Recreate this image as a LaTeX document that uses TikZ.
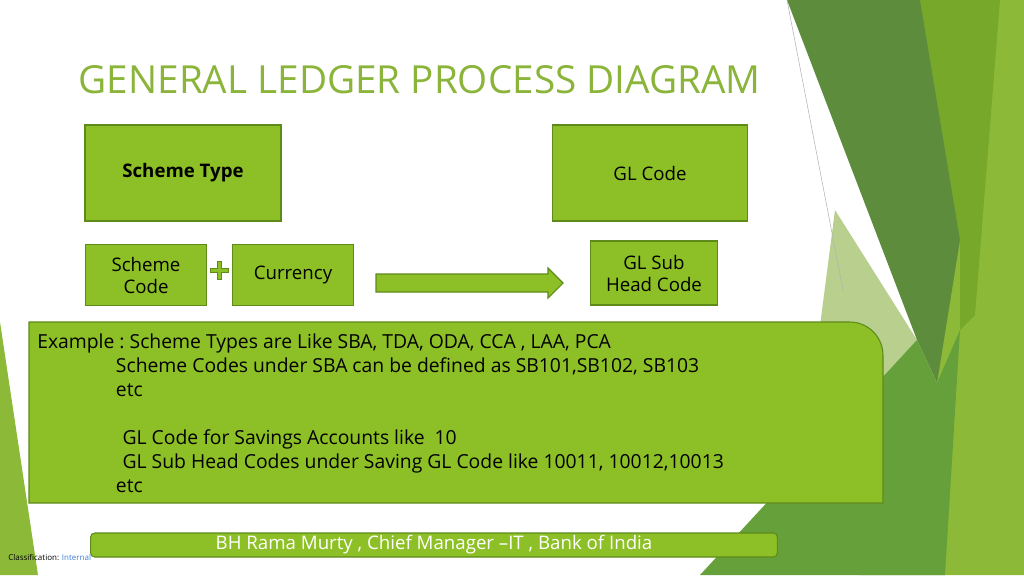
\documentclass[tikz,border=0pt]{standalone}
\usepackage{fontspec}
\setmainfont{Open Sans}
\usetikzlibrary{positioning}
\definecolor{boxgreen}{HTML}{8DC026}
\definecolor{boxedge}{HTML}{5E8A1A}
\definecolor{titlegreen}{HTML}{8AB43A}
\definecolor{darkband}{HTML}{5C8C3C}
\definecolor{limeband}{HTML}{78A82A}
\definecolor{lightband}{HTML}{8CBA38}
\definecolor{midband}{HTML}{66A03A}
\definecolor{paleband}{HTML}{B8CF8E}
\tikzset{box/.style={draw=boxedge, fill=boxgreen, line width=0.8pt, align=center, inner sep=0pt, font=\fontsize{14}{16.5}\selectfont}}
\begin{document}
\begin{tikzpicture}[x=0.75pt,y=-0.75pt]
\useasboundingbox (0,0) rectangle (1024,575);
%% background shapes
\fill[paleband] (835,210) -- (917,340) -- (870,420) -- (800,480) -- cycle;
\fill[lightband] (920,0) -- (1024,0) -- (1024,575) -- (860,575) -- (937,383) -- cycle;
\fill[limeband] (920,0) -- (1000,0) -- (975,315) -- (960,330) -- (960,240) -- cycle;
\fill[darkband] (787,0) -- (920,0) -- (960,240) -- (937,383) -- (917,340) -- cycle;
\fill[midband] (700,575) -- (917,340) -- (937,383) -- (960,330) -- (945,575) -- cycle;
\fill[lightband] (0,322) -- (38,575) -- (0,575) -- cycle;
\draw[gray!60, line width=0.4pt] (787,0) -- (843,290);
%
\node[anchor=west, text=titlegreen, font=\fontsize{29}{33}\selectfont] (title) at (74,80) {GENERAL LEDGER PROCESS DIAGRAM};
\node[box, minimum width=147pt, minimum height=72pt, font=\fontsize{14}{16.5}\selectfont\bfseries] (stype) at (183,173) {Scheme Type};
\node[box, minimum width=146pt, minimum height=72pt] (glcode) at (650,173) {GL Code};
\node[box, minimum width=91pt, minimum height=46pt] (scode) at (146,275) {Scheme\\Code};
\node[box, minimum width=91pt, minimum height=46pt] (curr) at (293,275) {Currency};
\node[box, minimum width=95pt, minimum height=48pt] (glsub) at (654,273) {GL Sub\\Head Code};
\draw[boxedge, fill=boxgreen, line width=0.5pt] (217,261) -- (221,261) -- (221,268) -- (228,268) -- (228,272) -- (221,272) -- (221,279) -- (217,279) -- (217,272) -- (210,272) -- (210,268) -- (217,268) -- cycle;
\draw[boxedge, fill=boxgreen, line width=0.8pt] (376,274) -- (548,274) -- (548,268) -- (563,283) -- (548,298) -- (548,292) -- (376,292) -- cycle;
%
\draw[draw=boxedge, fill=boxgreen, line width=0.8pt] (29,322) [rounded corners=25] -- (883,322) [sharp corners] -- (883,503) -- (29,503) -- cycle;
\node[anchor=north west, align=left, inner sep=0pt, font=\fontsize{14.5}{23}\selectfont] (example) at (37,334) {%
Example :\ Scheme Types are Like SBA, TDA, ODA, CCA , LAA, PCA\\[-5pt]
\hspace*{59pt}Scheme Codes under SBA can be defined as SB101,SB102, SB103\\[-5pt]
\hspace*{59pt}etc\\[-5pt]
\\[-5pt]
\hspace*{64pt}GL Code for Savings Accounts like~ 10\\[-5pt]
\hspace*{64pt}GL Sub Head Codes under Saving GL Code like 10011, 10012,10013\\[-5pt]
\hspace*{59pt}etc};
\node[box, rounded corners=3pt, minimum width=515pt, minimum height=18pt, text=white] (footer) at (434,545) {BH Rama Murty , Chief Manager –IT , Bank of India};
\node[anchor=west, inner sep=0pt, font=\fontsize{6}{7}\selectfont] (cls) at (8,557) {Classification: \textcolor[HTML]{3B7DD8}{Internal}};
\end{tikzpicture}
\end{document}
